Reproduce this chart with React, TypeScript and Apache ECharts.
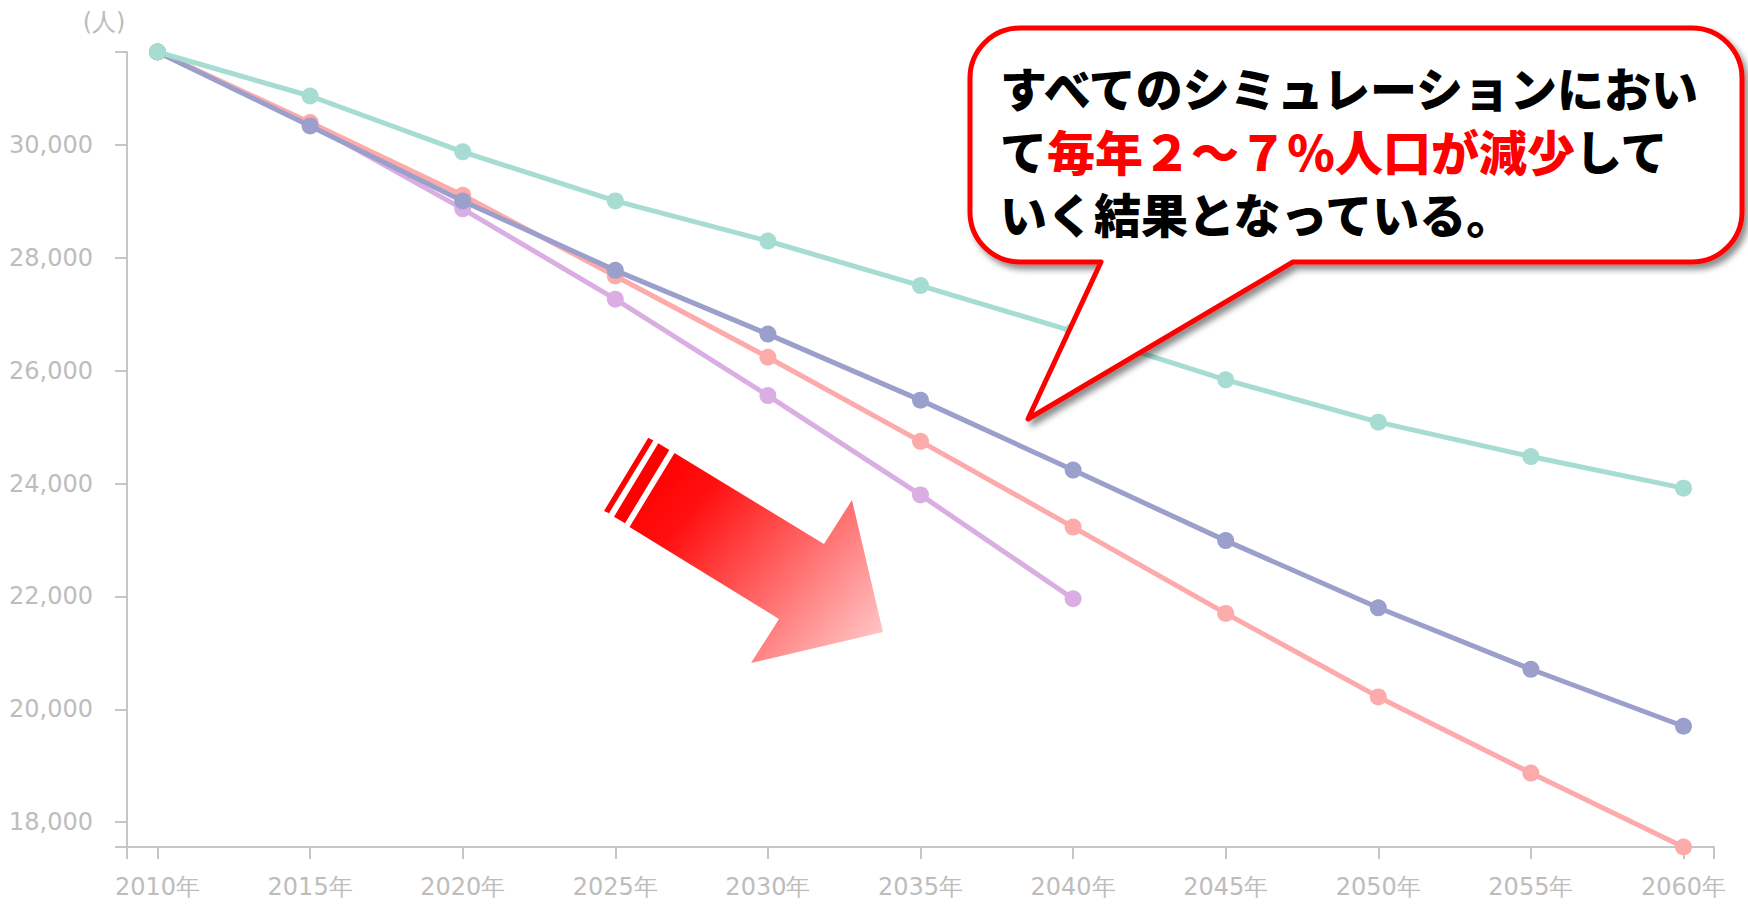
import React, { useEffect, useRef } from "react";
import * as echarts from "echarts";

const years = [2010, 2015, 2020, 2025, 2030, 2035, 2040, 2045, 2050, 2055, 2060];
const xTickLabels = [2010, 2015, 2020, 2025, 2030, 2035, 2040, 2045, 2050, 2055, 2060];
const yTickLabels = [18000, 20000, 22000, 24000, 26000, 28000, 30000];

const tealValues = [31650, 30870, 29880, 29010, 28300, 27510, 26700, 25840, 25090, 24480, 23920];
const navyValues = [31650, 30340, 29010, 27780, 26650, 25480, 24240, 22990, 21800, 20710, 19700];
const pinkValues = [31650, 30400, 29110, 27680, 26240, 24750, 23230, 21700, 20220, 18870, 17560];
const purpleValues = [31650, 30380, 28870, 27270, 25560, 23800, 21960];

const calloutLine1 = "すべてのシミュレーションにおい";
const calloutLine2a = "て";
const calloutLine2b = "毎年２～７％人口が減少";
const calloutLine2c = "して";
const calloutLine3 = "いく結果となっている。";
const unitLabel = "(人)";

function pairs(vals: number[]) {
  return vals.map((v, i) => [years[i], v]);
}

function fmt(v: number) {
  return String(v).replace(/\B(?=(\d{3})+(?!\d))/g, ",");
}

const L = 970, T = 28, R = 1742, B = 262, RAD = 50;
const calloutD =
  `M ${L + RAD} ${T} L ${R - RAD} ${T} A ${RAD} ${RAD} 0 0 1 ${R} ${T + RAD} ` +
  `L ${R} ${B - RAD} A ${RAD} ${RAD} 0 0 1 ${R - RAD} ${B} ` +
  `L 1293 ${B} L 1028 419 L 1101 ${B} ` +
  `L ${L + RAD} ${B} A ${RAD} ${RAD} 0 0 1 ${L} ${B - RAD} ` +
  `L ${L} ${T + RAD} A ${RAD} ${RAD} 0 0 1 ${L + RAD} ${T} Z`;

let registered = false;

export default function App() {
  const ref = useRef<HTMLDivElement>(null);
  useEffect(() => {
    if (!ref.current) return;
    if (!registered) {
      echarts.graphic.registerShape("callout", echarts.graphic.extendPath(calloutD, {}));
      registered = true;
    }
    const chart = echarts.init(ref.current, null, { renderer: "svg" });
    const all = [...tealValues, ...navyValues, ...pinkValues, ...purpleValues];
    const yMin = Math.min(...all);
    const yMax = Math.max(...all);
    const xMin = years[0] - 1;
    const xMax = years[years.length - 1] + 1;
    const axisColor = "#c6c6c6";
    const labelColor = "#bdbdbd";
    const font = "DejaVu Sans";
    const cjk = `"Noto Sans CJK JP"`;
    const mk = (name: string, vals: number[], color: string, z: number) => ({
      name,
      type: "line",
      data: pairs(vals),
      symbol: "circle",
      symbolSize: 17,
      z,
      lineStyle: { color, width: 5 },
      itemStyle: { color },
    });
    chart.setOption({
      animation: false,
      backgroundColor: "#ffffff",
      grid: { left: 127, right: 34, top: 52, bottom: 61, containLabel: false },
      xAxis: {
        type: "value",
        min: xMin,
        max: xMax,
        axisLine: { show: true, lineStyle: { color: axisColor, width: 2 } },
        axisTick: {
          show: true,
          length: 12,
          lineStyle: { color: axisColor, width: 2 },
          customValues: [xMin, ...xTickLabels, xMax],
        },
        axisLabel: {
          color: labelColor,
          fontFamily: font,
          fontSize: 24,
          margin: 28,
          customValues: xTickLabels,
          formatter: (v: number) => `${v}年`,
        },
        splitLine: { show: false },
      },
      yAxis: {
        type: "value",
        min: yMin,
        max: yMax,
        axisLine: { show: true, lineStyle: { color: axisColor, width: 2 } },
        axisTick: {
          show: true,
          length: 12,
          lineStyle: { color: axisColor, width: 2 },
          customValues: [yMin, ...yTickLabels, yMax],
        },
        axisLabel: {
          color: labelColor,
          fontFamily: font,
          fontSize: 24,
          margin: 34,
          customValues: yTickLabels,
          formatter: (v: number) => fmt(v),
        },
        splitLine: { show: false },
      },
      series: [
        mk("purple", purpleValues, "#dbaee3", 2),
        mk("pink", pinkValues, "#fcaaaa", 3),
        mk("navy", navyValues, "#9a9fcb", 4),
        mk("teal", tealValues, "#a6dcd2", 5),
      ],
      graphic: [
        {
          type: "text",
          z: 50,
          style: {
            text: unitLabel,
            x: 104,
            y: 22,
            align: "center",
            verticalAlign: "middle",
            fill: labelColor,
            font: `24px "${font}"`,
          },
        },
        {
          type: "polygon",
          z: 60,
          shape: { points: [[648.3, 437.7], [653.3, 440.5], [609, 513.3], [604, 511]] },
          style: { fill: "#ff0000" },
        },
        {
          type: "polygon",
          z: 60,
          shape: { points: [[658.3, 443.3], [669.3, 450], [625, 523.3], [614, 516.7]] },
          style: { fill: "#ff0000" },
        },
        {
          type: "polygon",
          z: 60,
          shape: {
            points: [
              [674.5, 453],
              [824, 544],
              [852, 500],
              [883, 632],
              [751, 663],
              [779, 619],
              [629.5, 527],
            ],
          },
          style: {
            fill: new echarts.graphic.LinearGradient(0, 0.2, 1, 0.9, [
              { offset: 0, color: "#ff0000" },
              { offset: 0.2, color: "#ff1010" },
              { offset: 1, color: "#ffcaca" },
            ]),
          },
        },
        {
          type: "callout",
          z: 70,
          x: 0,
          y: 0,
          scaleX: 1,
          scaleY: 1,
          style: {
            fill: "#ffffff",
            stroke: "#ff0000",
            lineWidth: 5,
            lineJoin: "round",
            shadowBlur: 6,
            shadowOffsetX: 4,
            shadowOffsetY: 5,
            shadowColor: "rgba(0,0,0,0.45)",
          },
        },
        {
          type: "text",
          z: 80,
          style: {
            text:
              `{b|${calloutLine1}}\n` +
              `{b|${calloutLine2a}}{r|${calloutLine2b}}{b|${calloutLine2c}}\n` +
              `{b|${calloutLine3}}`,
            x: 1000,
            y: 55,
            verticalAlign: "top",
            rich: {
              b: { fill: "#000000", font: `900 47px ${cjk}`, lineHeight: 63 },
              r: { fill: "#ff0000", font: `900 48px ${cjk}`, lineHeight: 63 },
            },
          },
        },
      ],
    });
    return () => chart.dispose();
  }, []);
  return (
    <div
      ref={ref}
      style={{ position: "absolute", left: 0, top: 0, width: 1748, height: 908 }}
    />
  );
}
